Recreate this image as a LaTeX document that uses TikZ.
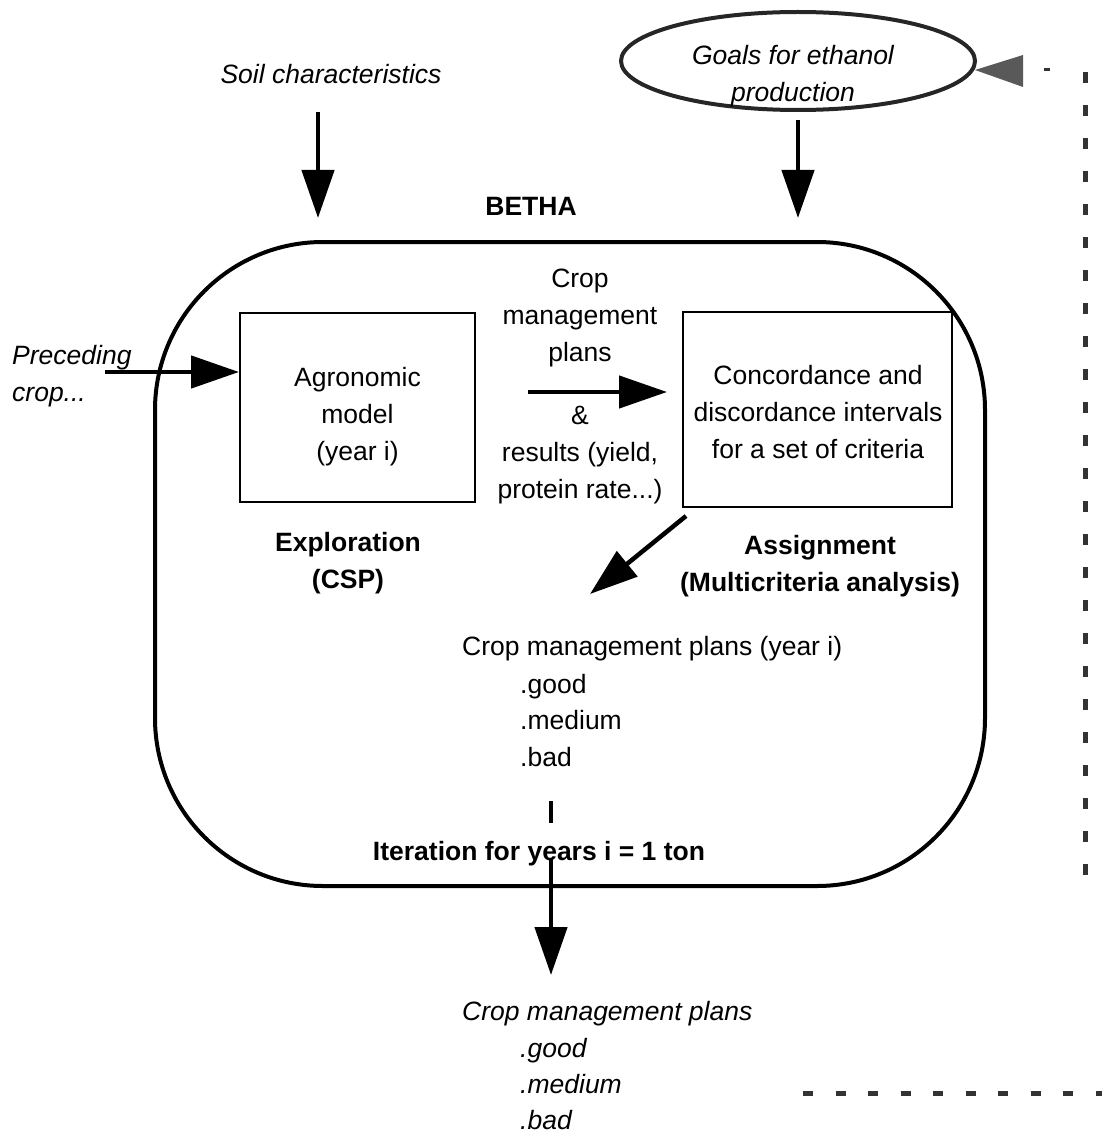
\documentclass[tikz,border=0pt]{standalone}
\usepackage{fontspec}
\setmainfont{Liberation Sans}
\usetikzlibrary{arrows.meta,shapes.geometric}
\begin{document}
\begin{tikzpicture}[x=1pt,y=-1pt,
  txt/.style={font=\fontsize{26.5}{37}\selectfont, inner sep=0pt, align=center},
  itxt/.style={txt, font=\fontsize{26.5}{37}\selectfont\itshape},
  btxt/.style={txt, font=\fontsize{26.5}{37}\selectfont\bfseries},
  box/.style={draw, line width=2pt, inner sep=0pt},
  bigarrow/.style={line width=4.5pt, -{Triangle[length=48pt,width=32pt]}},
  dots/.style={draw=black!80, line width=5pt}
]
\useasboundingbox (0,0) rectangle (1102,1134);

% frame
\node[draw, line width=4pt, rounded corners=168pt, minimum width=830pt, minimum height=644pt, inner sep=0pt] (frame) at (570,564) {};
\node[btxt] (betha) at (531,206) {BETHA};

% top inputs
\node[itxt] (soil) at (331,74) {Soil characteristics};
\node[draw=black!85, line width=4pt, ellipse, minimum width=354pt, minimum height=98pt, inner sep=0pt] (goalsE) at (798,61) {};
\node[itxt] (goals) at (793,76) {Goals for ethanol\\production};

\coordinate (s1) at (318,112);
\coordinate (s2) at (318,218);
\draw[bigarrow] (s1) -- (s2);
\coordinate (g1) at (798,120);
\coordinate (g2) at (798,218);
\draw[bigarrow] (g1) -- (g2);

% preceding crop
\node[itxt, align=left, anchor=west] (prec) at (12,376) {Preceding\\crop...};

% boxes
\node[box, minimum width=235pt, minimum height=189pt] (agro) at (357.5,407.5) {};
\node[txt] (agrot) at (357.5,417) {Agronomic\\model\\(year i)};
\node[box, minimum width=269pt, minimum height=195pt] (conc) at (817.5,409.5) {};
\node[txt] (conct) at (818,412) {Concordance and\\discordance intervals\\for a set of criteria};

\coordinate (p1) at (105,372);
\draw[bigarrow] (p1) -- (agro.west |- p1);

% middle
\node[txt] (cmp) at (580,318) {Crop\\management\\plans};
\node[txt] (res) at (580,455) {\&\\results (yield,\\protein rate...)};
\coordinate (m1) at (528,392);
\coordinate (m2) at (667,392);
\draw[bigarrow] (m1) -- (m2);

\node[btxt] (expl) at (348,563) {Exploration\\(CSP)};
\node[btxt] (assign) at (820,566.5) {Assignment\\(Multicriteria analysis)};

\coordinate (d1) at (686,516);
\coordinate (d2) at (590,594);
\draw[bigarrow] (d1) -- (d2);

% results inside
\node[txt, anchor=base west] (plans) at (462,655) {Crop management plans (year i)};
\node[txt, anchor=base west] (good) at (520,693) {.good};
\node[txt, anchor=base west] (medium) at (520,729) {.medium};
\node[txt, anchor=base west] (bad) at (520,766) {.bad};

\coordinate (b1) at (551,801);
\coordinate (b2) at (551,823);
\draw[line width=4.5pt] (b1) -- (b2);
\node[btxt] (iter) at (539,854) {Iteration for years i = 1 ton};

\coordinate (o1) at (551,858);
\coordinate (o2) at (551,975);
\draw[bigarrow] (o1) -- (o2);

% outputs
\node[itxt, anchor=base west] (oplans) at (462,1020) {Crop management plans};
\node[itxt, anchor=base west] (ogood) at (520,1057) {.good};
\node[itxt, anchor=base west] (omedium) at (520,1093) {.medium};
\node[itxt, anchor=base west] (obad) at (520,1129) {.bad};

% feedback dashed line
\coordinate (f1) at (1085,72);
\coordinate (f2) at (1085,897);
\draw[dots, dash pattern=on 11pt off 22pt] (f1) -- (f2);
\coordinate (h1) at (803,1093);
\coordinate (h2) at (1102,1093);
\draw[dots, dash pattern=on 10pt off 22.5pt] (h1) -- (h2);
\coordinate (t1) at (1050,70);
\coordinate (t2) at (1044,70);
\draw[dots, line width=3pt] (t1) -- (t2);
\coordinate (tip) at (975,70);
\fill[black!65] (tip) -- (1023,55) -- (1023,87) -- cycle;
\end{tikzpicture}
\end{document}
